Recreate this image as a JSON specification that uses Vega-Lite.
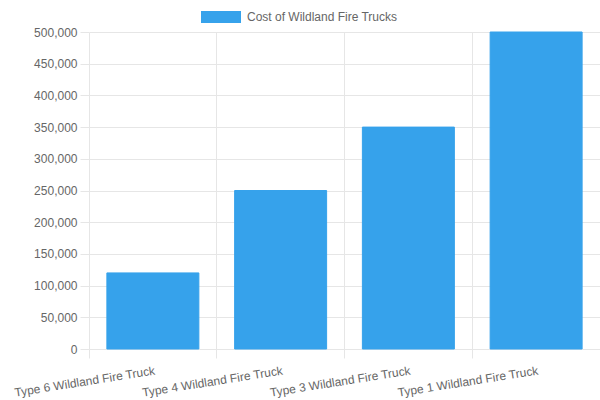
{
  "$schema": "https://vega.github.io/schema/vega-lite/v6.json",
  "autosize": {"type": "none"},
  "padding": {"left": 89, "top": 32, "right": 0, "bottom": 51},
  "width": 511,
  "height": 317,
  "data": {
    "values": [
      {"truck": "Type 6 Wildland Fire Truck", "cost": 120000},
      {"truck": "Type 4 Wildland Fire Truck", "cost": 250000},
      {"truck": "Type 3 Wildland Fire Truck", "cost": 350000},
      {"truck": "Type 1 Wildland Fire Truck", "cost": 500000}
    ]
  },
  "mark": {"type": "bar", "stroke": "#36A2EB", "strokeWidth": 1, "width": {"band": 0.72}},
  "encoding": {
    "x": {
      "field": "truck",
      "type": "nominal",
      "sort": null,
      "title": null,
      "scale": {"paddingInner": 0, "paddingOuter": 0},
      "axis": {
        "bandPosition": 0,
        "grid": true,
        "labelAngle": -9,
        "labelAlign": "right",
        "labelBaseline": "middle",
        "labelOffset": 2,
        "labelPadding": 12,
        "tickSize": 9,
        "domain": false
      }
    },
    "y": {
      "field": "cost",
      "type": "quantitative",
      "title": null,
      "scale": {"domain": [0, 500000], "nice": false},
      "axis": {
        "values": [0, 50000, 100000, 150000, 200000, 250000, 300000, 350000, 400000, 450000, 500000],
        "format": ",d",
        "tickSize": 9,
        "labelPadding": 3,
        "domain": false
      }
    },
    "color": {
      "datum": "Cost of Wildland Fire Trucks",
      "type": "nominal",
      "scale": {"range": ["#36A2EB"]},
      "legend": {
        "title": null,
        "orient": "none",
        "legendX": 112,
        "legendY": -35,
        "symbolType": "M-1,-0.3H1V0.3H-1Z",
        "symbolSize": 1600,
        "symbolStrokeWidth": 0,
        "symbolOpacity": 1,
        "labelFontSize": 12,
        "labelOffset": 6,
        "labelColor": "#666666",
        "labelFont": "Liberation Sans",
        "padding": 0
      }
    }
  },
  "config": {
    "view": {"stroke": null},
    "font": "Liberation Sans",
    "axis": {
      "labelFont": "Liberation Sans",
      "labelFontSize": 12,
      "labelColor": "#666666",
      "gridColor": "#e6e6e6",
      "tickColor": "#e6e6e6",
      "gridWidth": 1
    }
  }
}
